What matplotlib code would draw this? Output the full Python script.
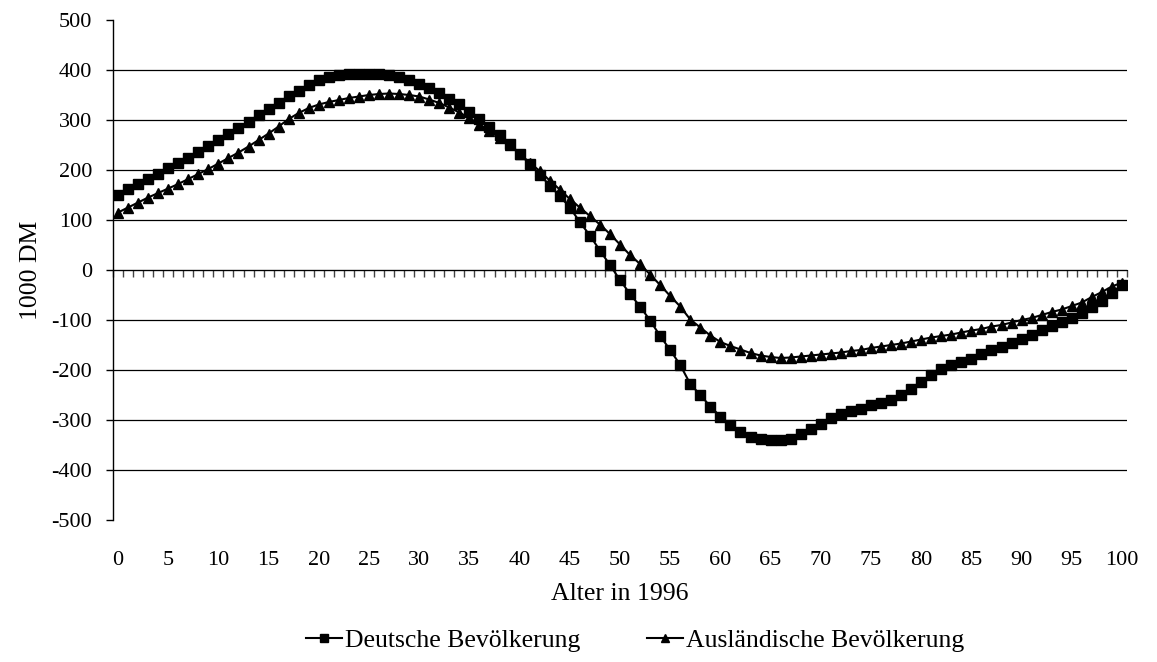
import matplotlib
matplotlib.use("Agg")
import matplotlib.pyplot as plt
import numpy as np
import matplotlib.ticker as tck

plt.rcParams['font.family'] = ['Liberation Serif', 'DejaVu Serif']

# data (1000 DM by age in 1996)
alter = list(range(0, 101))
deutsche = [150, 162, 173, 183, 193, 204, 215, 225, 237, 248,
            260, 272, 285, 297, 310, 323, 335, 348, 359, 371,
            380, 386, 390, 392, 393, 393, 393, 391, 387, 380,
            373, 364, 355, 343, 332, 316, 302, 287, 270, 252,
            233, 212, 191, 169, 148, 125, 96, 69, 39, 10,
            -20, -48, -73, -101, -132, -160, -190, -228, -250, -273,
            -293, -310, -323, -333, -338, -340, -340, -337, -328, -318,
            -307, -295, -287, -281, -277, -270, -265, -259, -250, -237,
            -223, -210, -197, -190, -183, -177, -168, -160, -153, -145,
            -137, -130, -120, -112, -103, -95, -85, -73, -62, -45,
            -30]
auslaender = [115, 125, 135, 145, 154, 163, 172, 182, 192, 202,
              213, 224, 235, 247, 260, 273, 287, 302, 314, 324,
              331, 336, 340, 344, 347, 350, 352, 353, 352, 350,
              347, 341, 334, 325, 315, 304, 291, 279, 265, 250,
              232, 215, 198, 179, 161, 142, 125, 108, 91, 72,
              51, 30, 12, -9, -30, -52, -73, -99, -115, -131,
              -144, -152, -159, -166, -171, -174, -176, -175, -173, -171,
              -169, -167, -165, -162, -160, -156, -153, -150, -147, -143,
              -139, -135, -132, -129, -125, -121, -118, -113, -110, -105,
              -100, -96, -90, -84, -79, -72, -65, -54, -44, -33,
              -25]

y_ticks = list(range(-500, 501, 100))
x_labels = list(range(0, 101, 5))

FS_TICK = 16
FS_TEXT = 18.5

# figure and axes set-up
######################################################################
fig = plt.figure(figsize=(11.57, 6.62), dpi=100)
ax = fig.add_axes([113/1157, 142/662, 1014/1157, 500/662])

ax.set_xlim(-0.5, 100.5)
ax.set_ylim(-500, 500)

for s in ['top', 'right', 'bottom']:
    ax.spines[s].set_visible(False)
ax.spines['left'].set_linewidth(1.0)
ax.spines['left'].set_color('black')

# y ticks
ax.set_yticks(y_ticks)
ax.yaxis.set_major_formatter(tck.FuncFormatter(lambda v, p: '%d' % v))
ax.tick_params(axis='y', direction='out', length=5, width=1, labelsize=FS_TICK, pad=10)

# horizontal grid, no line at the outer limits
ax.yaxis.grid(True, color='black', linewidth=0.9)
ax.set_axisbelow(True)
glines = ax.get_ygridlines()
glines[0].set_visible(False)
glines[-1].set_visible(False)

# x labels at the bottom, no marks
ax.set_xticks(x_labels)
ax.tick_params(axis='x', length=0, labelsize=FS_TICK, pad=22)

# category axis drawn at y = 0 with small ticks between categories
zax = ax.secondary_xaxis(0.5)
zax.set_xticks(np.arange(-0.5, 101, 1.0))
zax.set_xticklabels([])
zax.tick_params(direction='in', length=5, width=1, color='#444444')
zax.spines['bottom'].set_color('#444444')
zax.spines['bottom'].set_linewidth(1.0)
######################################################################

ax.plot(alter, deutsche, color='black', linewidth=1.5, marker='s',
        markersize=7, label='Deutsche Bevölkerung', zorder=3)
ax.plot(alter, auslaender, color='black', linewidth=1.5, marker='^',
        markersize=7.5, label='Ausländische Bevölkerung', zorder=4)

ax.set_ylabel('1000 DM', fontsize=FS_TEXT, labelpad=7)
ax.set_xlabel('Alter in 1996', fontsize=FS_TEXT, labelpad=10)

fig.legend(loc='center', bbox_to_anchor=(0.549, 0.033), ncol=2, frameon=False,
           fontsize=FS_TEXT, handlelength=1.4, handletextpad=0.1, columnspacing=2.6,
           markerscale=0.75)

fig.savefig('out.png', dpi=100)
